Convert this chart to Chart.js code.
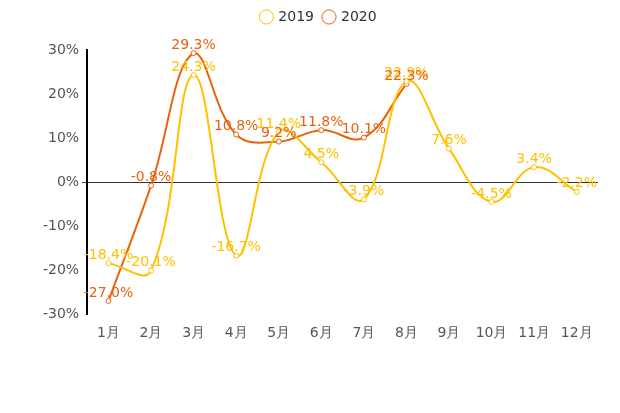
<!DOCTYPE html>
<html><head><meta charset="utf-8">
<script src="https://cdn.jsdelivr.net/npm/chart.js@4/dist/chart.umd.min.js"></script>
<style>html,body{margin:0;background:#fff}#wrap{width:620px;height:413px}</style>
</head><body><div id="wrap"><canvas id="myChart"></canvas></div>
<script>
const labels = ['1月','2月','3月','4月','5月','6月','7月','8月','9月','10月','11月','12月'];
const data2019 = [-18.4, -20.1, 24.3, -16.7, 11.4, 4.5, -3.9, 22.9, 7.6, -4.5, 3.4, -2.2];
const data2020 = [-27.0, -0.8, 29.3, 10.8, 9.2, 11.8, 10.1, 22.3, null, null, null, null];
const yTicks = [-30, -20, -10, 0, 10, 20, 30];

// point labels
const labelPlugin = {
  id: 'pointLabels',
  afterDatasetsDraw(chart) {
    const ctx = chart.ctx;
    ctx.save();
    ctx.font = '14px "DejaVu Sans"';
    ctx.textAlign = 'center';
    chart.data.datasets.forEach((ds, i) => {
      chart.getDatasetMeta(i).data.forEach((pt, j) => {
        const v = ds.data[j];
        if (v == null) return;
        ctx.fillStyle = ds.borderColor;
        ctx.fillText(v.toFixed(1) + '%', pt.x, pt.y - 8);
      });
    });
    ctx.restore();
  }
};

// extra space under the legend
const legendPad = {
  id: 'legendPad',
  beforeInit(chart) {
    const fit = chart.legend.fit;
    chart.legend.fit = function () { fit.bind(chart.legend)(); this.height += 16; };
  }
};

new Chart(document.getElementById('myChart'), {
  type: 'line',
  data: {
    labels: labels,
    datasets: [
      { label: '2019', data: data2019, borderColor: '#FFC000', backgroundColor: '#fff',
        borderWidth: 2, tension: 0.4, pointRadius: 2.5, pointBorderWidth: 1 },
      { label: '2020', data: data2020, borderColor: '#E8620F', backgroundColor: '#fff',
        borderWidth: 2, tension: 0.4, pointRadius: 2.5, pointBorderWidth: 1 }
    ]
  },
  options: {
    responsive: true,
    maintainAspectRatio: false,
    animation: false,
    layout: { padding: { left: 40, right: 22, top: 0, bottom: 68 } },
    plugins: {
      legend: { labels: { usePointStyle: true, pointStyle: 'circle', color: '#333',
        font: { size: 14, family: 'DejaVu Sans' }, boxWidth: 10, boxHeight: 10 } },
      tooltip: { enabled: false }
    },
    scales: {
      x: {
        offset: true,
        grid: { display: false },
        border: { display: false },
        ticks: { color: '#555', font: { size: 14, family: 'DejaVu Sans' } }
      },
      y: {
        min: -30, max: 30,
        afterBuildTicks(axis) { axis.ticks = yTicks.map(v => ({ value: v })); },
        grid: { drawOnChartArea: true, drawTicks: true, tickLength: 5,
          color: ctx => ctx.tick && ctx.tick.value === 0 ? '#333' : 'rgba(0,0,0,0)' },
        border: { display: true, color: '#000', width: 2 },
        ticks: { color: '#555', font: { size: 14, family: 'DejaVu Sans' },
          callback: v => v + '%' }
      }
    }
  },
  plugins: [labelPlugin, legendPad]
});
</script></body></html>
